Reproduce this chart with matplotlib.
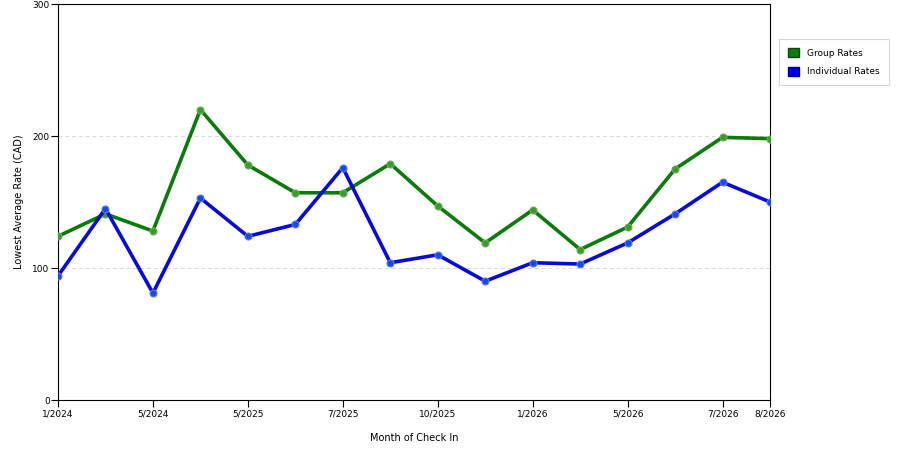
import matplotlib
matplotlib.use("Agg")
import matplotlib.pyplot as plt
from matplotlib.patches import Patch

months = ["1/2024", "3/2024", "5/2024", "7/2024", "5/2025", "6/2025", "7/2025", "8/2025",
          "10/2025", "11/2025", "1/2026", "3/2026", "5/2026", "6/2026", "7/2026", "8/2026"]
group_rates = [124, 141, 128, 220, 178, 157, 157, 179, 147, 119, 144, 114, 131, 175, 199, 198]
individual_rates = [94, 145, 81, 153, 124, 133, 176, 104, 110, 90, 104, 103, 119, 141, 165, 150]
tick_idx = [0, 2, 4, 6, 8, 10, 12, 14, 15]
tick_labels = ["1/2024", "5/2024", "5/2025", "7/2025", "10/2025", "1/2026", "5/2026", "7/2026", "8/2026"]

green = "#0b7a0b"
blue = "#0a0ad8"

fig = plt.figure(figsize=(9, 4.5), dpi=100)
ax = fig.add_axes([58/900, 50/450, 712/900, 396/450])

x = list(range(len(months)))
ax.plot(x, group_rates, color=green, lw=2.6, marker="o", ms=5,
        mfc="#3c9a2c", mec="#6aae55", mew=0.8, zorder=3, solid_joinstyle="round")
ax.plot(x, individual_rates, color=blue, lw=2.6, marker="o", ms=5,
        mfc="#1a4ae0", mec="#5a7ae8", mew=0.8, zorder=3, solid_joinstyle="round")

ax.set_xlim(0, len(months) - 1)
ax.set_ylim(0, 300)
ax.set_yticks([0, 100, 200, 300])
ax.set_xticks(tick_idx)
ax.set_xticklabels(tick_labels)
ax.tick_params(axis="both", labelsize=6.5, length=5, width=0.8, colors="black", direction="out")
ax.tick_params(axis="x", pad=2)
ax.tick_params(axis="y", pad=1)
for y in [100, 200]:
    ax.axhline(y, color="#d8d8d8", lw=0.7, ls=(0, (4, 3)), zorder=1)
for s in ax.spines.values():
    s.set_linewidth(0.8)
    s.set_color("black")

ax.set_xlabel("Month of Check In", fontsize=7, labelpad=10)
ax.set_ylabel("Lowest Average Rate (CAD)", fontsize=7, labelpad=6)

handles = [Patch(facecolor="#0e7a0e", edgecolor="#0a4a0a", label="Group Rates"),
           Patch(facecolor="#0000ee", edgecolor="#00007a", label="Individual Rates")]
leg = fig.legend(handles=handles, loc="upper left", bbox_to_anchor=(779/900, 1 - 39/450),
                 fontsize=6.5, frameon=True, fancybox=False, edgecolor="#cccccc",
                 handlelength=1.2, handleheight=1.2, handletextpad=0.9,
                 borderpad=1.0, labelspacing=1.0, borderaxespad=0)
leg.get_frame().set_linewidth(0.8)

fig.savefig("out.png", dpi=100)
